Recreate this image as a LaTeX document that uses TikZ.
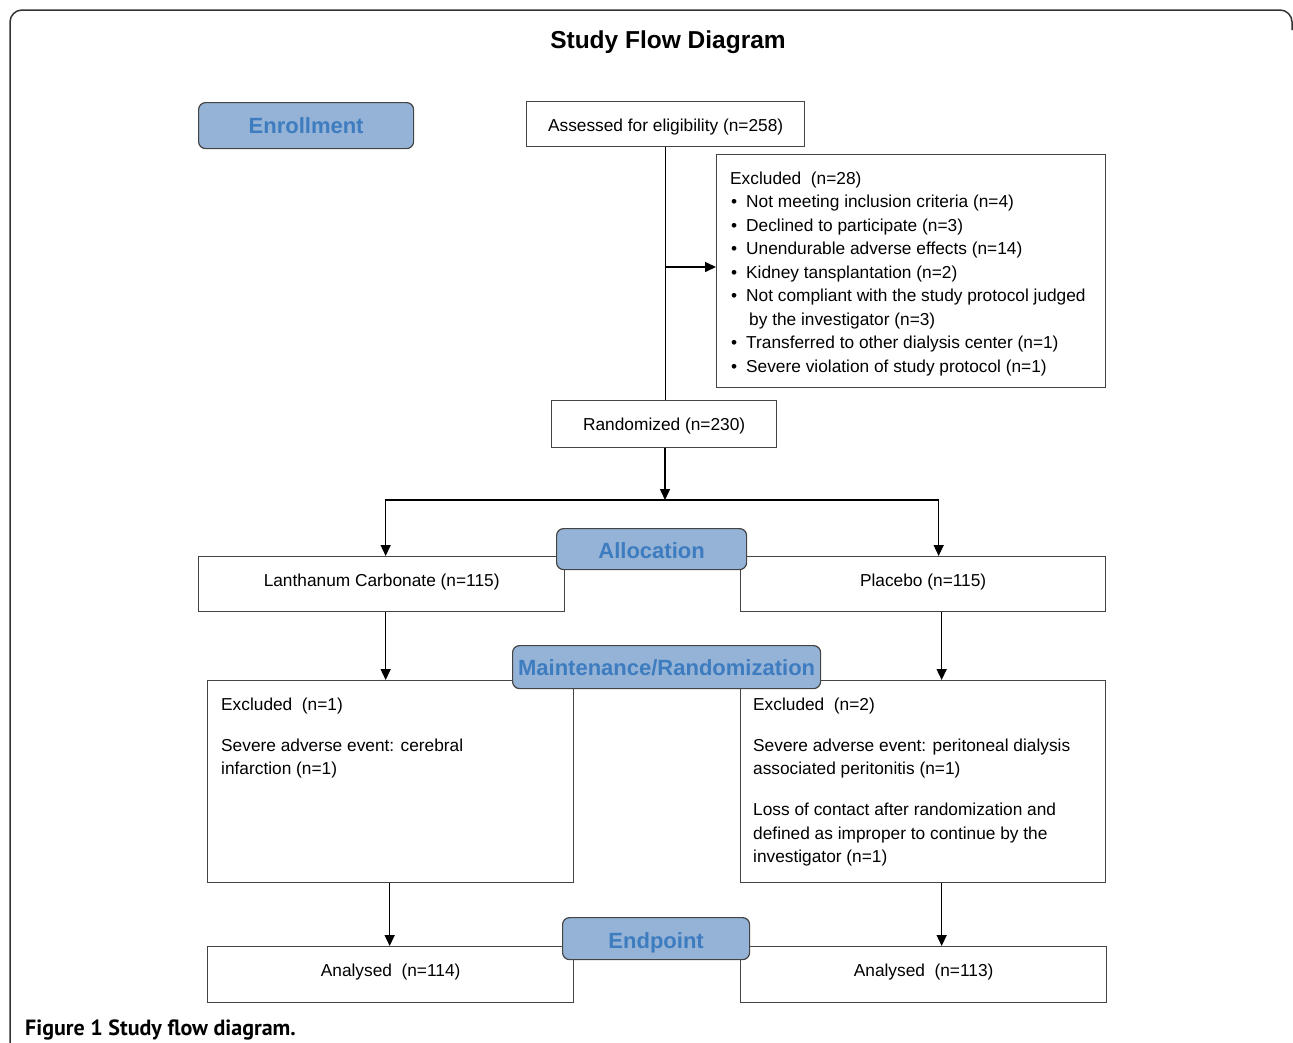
\documentclass[tikz,border=0pt]{standalone}
\usepackage{fontspec}
\setmainfont{Liberation Sans}
\newfontfamily\capfont{PT Sans}
\usetikzlibrary{arrows.meta}
\definecolor{hdrfill}{HTML}{95B3D7}
\definecolor{hdrtext}{HTML}{3E7CC0}
\definecolor{boxline}{HTML}{444444}
\newcommand{\bul}{\makebox[16pt][l]{\hspace{1pt}•}}
\begin{document}
\begin{tikzpicture}[x=1pt,y=-1pt,
  box/.style={draw=boxline, line width=1.3pt, inner sep=0pt, anchor=north west, text height=12.4pt, text depth=3.6pt, font=\fontsize{17.3}{23.5}\selectfont},
  txt/.style={inner sep=0pt, anchor=north west, align=left, font=\fontsize{17.3}{23.5}\selectfont},
  hdr/.style={draw=boxline, line width=1.2pt, fill=hdrfill, rounded corners=7pt, text=hdrtext, text height=16pt, text depth=0pt, font=\bfseries\fontsize{22}{26}\selectfont, inner sep=0pt, anchor=north west},
  arr/.style={line width=1.5pt, -{Triangle[length=11pt,width=10pt]}},
  conn/.style={line width=1.5pt}]
\useasboundingbox (0,0) rectangle (1293,1042);
% outer frame
\draw[line width=1.5pt, draw=black!80, rounded corners=12pt] (10,1046) -- (10,10) -- (1292,10) -- (1292,30);
% title
\node[font=\bfseries\fontsize{24.5}{28}\selectfont] (title) at (668,42) {Study Flow Diagram};
% boxes
\node[box, minimum width=278pt, minimum height=45pt] (assess) at (526,101) {\raisebox{-3.3pt}{Assessed for eligibility (n=258)}};
\node[box, minimum width=389pt, minimum height=233pt] (ex1) at (716,154) {};
\node[txt] (ex1t) at (730,171.5) {Excluded\ \ (n=28)\\
\bul Not meeting inclusion criteria (n=4)\\
\bul Declined to participate (n=3)\\
\bul Unendurable adverse effects (n=14)\\
\bul Kidney tansplantation (n=2)\\
\bul Not compliant with the study protocol judged\\
\hspace*{19pt}by the investigator (n=3)\\
\bul Transferred to other dialysis center (n=1)\\
\bul Severe violation of study protocol (n=1)};
\node[box, minimum width=225pt, minimum height=47pt] (rand) at (551,400) {\raisebox{-2.3pt}{Randomized (n=230)}};
\node[box, minimum width=366pt, minimum height=55pt] (lanth) at (198,556) {\raisebox{1.7pt}{Lanthanum Carbonate (n=115)}};
\node[box, minimum width=365pt, minimum height=55pt] (plac) at (740,556) {\raisebox{1.7pt}{Placebo (n=115)}};
\node[box, minimum width=366pt, minimum height=202pt] (ex2) at (207,680) {};
\node[txt] (ex2t) at (221,697.5) {Excluded\ \ (n=1)\\[17.5pt]
Severe adverse event: cerebral\\
infarction (n=1)};
\node[box, minimum width=365pt, minimum height=202pt] (ex3) at (740,680) {};
\node[txt] (ex3t) at (753,697.5) {Excluded\ \ (n=2)\\[17.5pt]
Severe adverse event: peritoneal dialysis\\
associated peritonitis (n=1)\\[17.5pt]
Loss of contact after randomization and\\
defined as improper to continue by the\\
investigator (n=1)};
\node[box, minimum width=366pt, minimum height=56pt] (an1) at (207,946) {\raisebox{2.2pt}{Analysed\ \ (n=114)}};
\node[box, minimum width=366pt, minimum height=56pt] (an2) at (740,946) {\raisebox{2.2pt}{Analysed\ \ (n=113)}};
% connectors
\draw[conn] (assess.south) -- (assess.south |- rand.north);
\draw[arr] (assess.south |- 0,267) -- (ex1.west |- 0,267);
\coordinate (split) at (665,500);
\draw[arr] (rand.south -| split) -- (split);
\draw[arr] (split) -| ([xshift=4pt]lanth.north);
\draw[arr] (split) -| ([xshift=15.5pt]plac.north);
\draw[arr] ([xshift=4pt]lanth.south) -- ([xshift=4pt]lanth.south |- ex2.north);
\draw[arr] ([xshift=18.5pt]plac.south) -- ([xshift=18.5pt]plac.south |- ex3.north);
\draw[arr] ([xshift=-1pt]ex2.south) -- ([xshift=-1pt]ex2.south |- an1.north);
\draw[arr] ([xshift=18.5pt]ex3.south) -- ([xshift=18.5pt]ex3.south |- an2.north);
% headers
\node[hdr, minimum width=215pt, minimum height=46pt] (enr) at (198,102) {Enrollment};
\node[hdr, minimum width=190pt, minimum height=41pt] (alloc) at (556,528) {\raisebox{-1.5pt}{Allocation}};
\node[hdr, minimum width=308pt, minimum height=43pt] (maint) at (512,645) {Maintenance/Randomization};
\node[hdr, minimum width=187pt, minimum height=42pt] (endp) at (562,917) {\raisebox{-2pt}{Endpoint}};
% caption
\node[anchor=base west, inner sep=0pt, font=\capfont\bfseries\fontsize{22}{25}\selectfont] (cap) at (25,1035) {Figure 1 Study flow diagram.};
\end{tikzpicture}
\end{document}
